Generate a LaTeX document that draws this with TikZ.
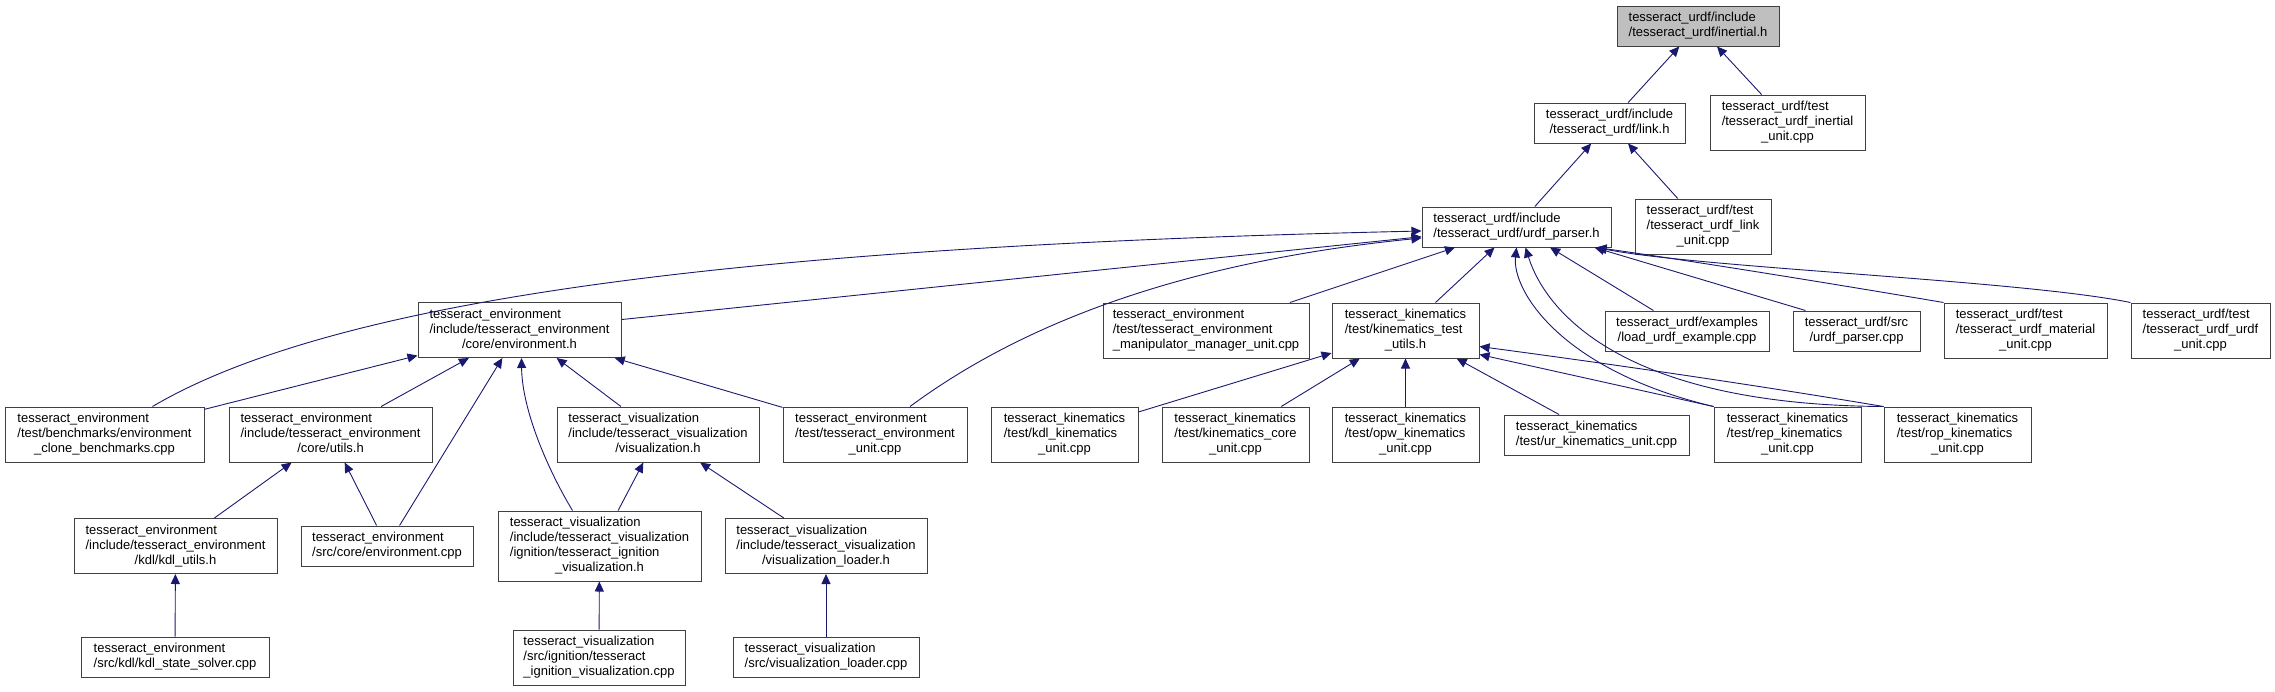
\documentclass[tikz,border=0pt]{standalone}
\usepackage{fontspec}
\setmainfont{Liberation Sans}
\usetikzlibrary{arrows.meta}
\definecolor{edgeblue}{HTML}{191970}
\definecolor{boxgray}{HTML}{BFBFBF}
\definecolor{framegray}{HTML}{404040}

% label lines: all left aligned, the last one centred
\newcommand{\twol}[2]{\begin{tabular}{@{}l@{}}#1\\\multicolumn{1}{@{}c@{}}{#2}\end{tabular}}
\newcommand{\threel}[3]{\begin{tabular}{@{}l@{}}#1\\#2\\\multicolumn{1}{@{}c@{}}{#3}\end{tabular}}
\newcommand{\fourl}[4]{\begin{tabular}{@{}l@{}}#1\\#2\\#3\\\multicolumn{1}{@{}c@{}}{#4}\end{tabular}}

\begin{document}
\begin{tikzpicture}[x=1pt,y=-1pt,
    filebox/.style={draw=framegray,line width=1pt,fill=white,inner sep=0pt,
                    font=\fontsize{13}{15}\selectfont,minimum width=#1},
    h40/.style={minimum height=40pt},
    h55/.style={minimum height=55pt},
    h70/.style={minimum height=70pt},
    incl/.style={-{Triangle[length=10pt,width=9pt]},edgeblue,line width=0.9pt}
  ]
  \useasboundingbox (0,0) rectangle (2275,691);

  % top of the graph
  \node[filebox=162pt,h40,fill=boxgray] (inertial) at (1698,26)
    {\twol{tesseract\_urdf/include}{/tesseract\_urdf/inertial.h}};
  \node[filebox=151pt,h40] (link) at (1609.5,123)
    {\twol{tesseract\_urdf/include}{/tesseract\_urdf/link.h}};
  \node[filebox=155pt,h55] (inertialunit) at (1787.5,122.5)
    {\threel{tesseract\_urdf/test}{/tesseract\_urdf\_inertial}{\_unit.cpp}};
  \node[filebox=189pt,h40] (parser) at (1516.5,227)
    {\twol{tesseract\_urdf/include}{/tesseract\_urdf/urdf\_parser.h}};
  \node[filebox=136pt,h55] (linkunit) at (1703,226.5)
    {\threel{tesseract\_urdf/test}{/tesseract\_urdf\_link}{\_unit.cpp}};

  % third row
  \node[filebox=203pt,h55] (envh) at (519.5,330)
    {\threel{tesseract\_environment}{/include/tesseract\_environment}{/core/environment.h}};
  \node[filebox=206pt,h55] (manip) at (1206,330.5)
    {\threel{tesseract\_environment}{/test/tesseract\_environment}{\_manipulator\_manager\_unit.cpp}};
  \node[filebox=147pt,h55] (kinutils) at (1405.5,330.5)
    {\threel{tesseract\_kinematics}{/test/kinematics\_test}{\_utils.h}};
  \node[filebox=164pt,h40] (loadex) at (1687,331)
    {\twol{tesseract\_urdf/examples}{/load\_urdf\_example.cpp}};
  \node[filebox=127pt,h40] (parsercpp) at (1856.5,331)
    {\twol{tesseract\_urdf/src}{/urdf\_parser.cpp}};
  \node[filebox=163pt,h55] (material) at (2025.5,330.5)
    {\threel{tesseract\_urdf/test}{/tesseract\_urdf\_material}{\_unit.cpp}};
  \node[filebox=139pt,h55] (urdfunit) at (2200.5,330.5)
    {\threel{tesseract\_urdf/test}{/tesseract\_urdf\_urdf}{\_unit.cpp}};

  % fourth row
  \node[filebox=199pt,h55] (clone) at (104.5,434.5)
    {\threel{tesseract\_environment}{/test/benchmarks/environment}{\_clone\_benchmarks.cpp}};
  \node[filebox=203pt,h55] (utils) at (330.5,434.5)
    {\threel{tesseract\_environment}{/include/tesseract\_environment}{/core/utils.h}};
  \node[filebox=202pt,h55] (vish) at (658,434.5)
    {\threel{tesseract\_visualization}{/include/tesseract\_visualization}{/visualization.h}};
  \node[filebox=184pt,h55] (envunit) at (875,434.5)
    {\threel{tesseract\_environment}{/test/tesseract\_environment}{\_unit.cpp}};
  \node[filebox=147pt,h55] (kdlkin) at (1064.5,434.5)
    {\threel{tesseract\_kinematics}{/test/kdl\_kinematics}{\_unit.cpp}};
  \node[filebox=147pt,h55] (kincore) at (1235.5,434.5)
    {\threel{tesseract\_kinematics}{/test/kinematics\_core}{\_unit.cpp}};
  \node[filebox=147pt,h55] (opw) at (1405.5,434.5)
    {\threel{tesseract\_kinematics}{/test/opw\_kinematics}{\_unit.cpp}};
  \node[filebox=185pt,h40] (ur) at (1596.5,435)
    {\twol{tesseract\_kinematics}{/test/ur\_kinematics\_unit.cpp}};
  \node[filebox=147pt,h55] (rep) at (1787.5,434.5)
    {\threel{tesseract\_kinematics}{/test/rep\_kinematics}{\_unit.cpp}};
  \node[filebox=147pt,h55] (rop) at (1957.5,434.5)
    {\threel{tesseract\_kinematics}{/test/rop\_kinematics}{\_unit.cpp}};

  % fifth row
  \node[filebox=203pt,h55] (kdlutils) at (175.5,546)
    {\threel{tesseract\_environment}{/include/tesseract\_environment}{/kdl/kdl\_utils.h}};
  \node[filebox=172pt,h40] (envcpp) at (387,546)
    {\twol{tesseract\_environment}{/src/core/environment.cpp}};
  \node[filebox=203pt,h70] (ignh) at (599.5,546)
    {\fourl{tesseract\_visualization}{/include/tesseract\_visualization}{/ignition/tesseract\_ignition}{\_visualization.h}};
  \node[filebox=202pt,h55] (vloaderh) at (826,546)
    {\threel{tesseract\_visualization}{/include/tesseract\_visualization}{/visualization\_loader.h}};

  % bottom row
  \node[filebox=188pt,h40] (kdlsolver) at (175,657)
    {\twol{tesseract\_environment}{/src/kdl/kdl\_state\_solver.cpp}};
  \node[filebox=172pt,h55] (igncpp) at (599,657.5)
    {\threel{tesseract\_visualization}{/src/ignition/tesseract}{\_ignition\_visualization.cpp}};
  \node[filebox=186pt,h40] (vloadercpp) at (826,657)
    {\twol{tesseract\_visualization}{/src/visualization\_loader.cpp}};

  % includes
  \draw[incl] (link) -- (inertial);
  \draw[incl] (inertialunit) -- (inertial);
  \draw[incl] (parser) -- (link);
  \draw[incl] (linkunit) -- (link);

  \draw[incl] ([xshift=48pt]clone.north) .. controls (350,290) and (800,245) .. ([yshift=-4pt]parser.west);
  \draw[incl] (envh) -- (parser);
  \draw[incl] ([xshift=35pt]envunit.north) .. controls (1000,340) and (1150,265) .. ([yshift=-11pt]parser.west);
  \draw[incl] (manip) -- (parser);
  \draw[incl] (kinutils) -- (parser);
  \draw[incl] (rep.north west) .. controls (1560,370) and (1512,290) .. (parser.south);
  \draw[incl] (rop.north west) .. controls (1620,405) and (1545,310) .. ([xshift=9pt]parser.south);
  \draw[incl] (loadex) -- (parser);
  \draw[incl] ([xshift=-51pt]parsercpp.north) -- ([xshift=78pt]parser.south);
  \draw[incl] (material.north west) .. controls (1870,290) and (1700,262) .. ([xshift=80pt]parser.south);
  \draw[incl] (urdfunit.north west) .. controls (2020,280) and (1700,268) .. ([xshift=80pt]parser.south);

  \draw[incl] (clone) -- (envh);
  \draw[incl] (utils) -- (envh);
  \draw[incl] (envcpp) -- (envh);
  \draw[incl] ([xshift=-27pt]ignh.north) .. controls (548,470) and (522,410) .. ([xshift=2pt]envh.south);
  \draw[incl] (vish) -- (envh);
  \draw[incl] (envunit) -- (envh);

  \draw[incl] (kdlkin) -- (kinutils);
  \draw[incl] (kincore) -- (kinutils);
  \draw[incl] (opw) -- (kinutils);
  \draw[incl] (ur) -- (kinutils);
  \draw[incl] (rep.north west) -- ([yshift=-24pt]kinutils.east);
  \draw[incl] (rop.north west) .. controls (1767,387) and (1633,367) .. ([yshift=-16pt]kinutils.east);

  \draw[incl] (kdlutils) -- (utils);
  \draw[incl] (envcpp) -- (utils);
  \draw[incl] (ignh) -- (vish);
  \draw[incl] (vloaderh) -- (vish);
  \draw[incl] (kdlsolver) -- (kdlutils);
  \draw[incl] (igncpp) -- (ignh);
  \draw[incl] (vloadercpp) -- (vloaderh);
\end{tikzpicture}
\end{document}
